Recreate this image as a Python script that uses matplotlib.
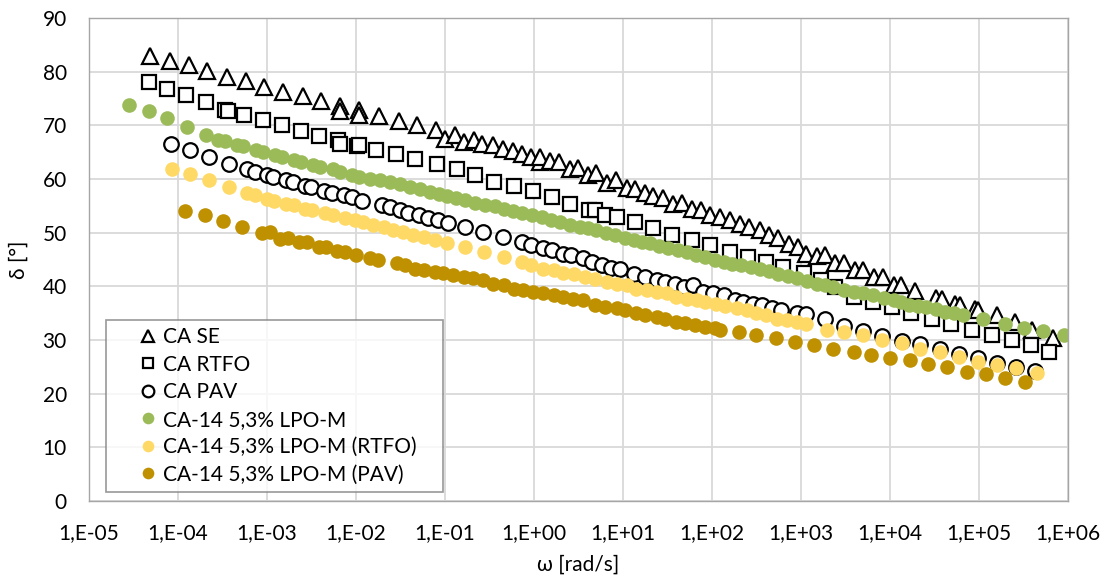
import matplotlib
matplotlib.use("Agg")
import matplotlib.pyplot as plt
from matplotlib.ticker import FixedLocator, NullLocator
import numpy as np

plt.rcParams['font.family'] = ['Lato', 'DejaVu Sans']

# log10(omega) and delta for each series
se_logw = [-4.31, -4.09, -3.88, -3.67, -3.45, -3.24, -3.03, -2.82, -2.60, -2.39,
           -2.18, -2.18, -1.97, -1.97, -1.74, -1.52, -1.31, -1.10, -1.00, -0.89,
           -0.79, -0.67, -0.58, -0.46, -0.35, -0.24, -0.14, -0.03, 0.07, 0.07,
           0.18, 0.28, 0.40, 0.50, 0.61, 0.70, 0.82, 0.92, 1.04, 1.13,
           1.25, 1.34, 1.45, 1.56, 1.66, 1.77, 1.88, 1.98, 2.09, 2.20,
           2.31, 2.42, 2.54, 2.64, 2.74, 2.86, 2.97, 3.06, 3.18, 3.27,
           3.38, 3.48, 3.61, 3.70, 3.82, 3.92, 4.04, 4.12, 4.28, 4.52,
           4.58, 4.73, 4.79, 4.96, 4.99, 5.20, 5.40, 5.59, 5.83]
se_delta = [82.9, 82.0, 81.2, 80.1, 79.0, 78.2, 77.2, 76.2, 75.4, 74.5,
            73.7, 72.7, 72.8, 71.9, 71.7, 70.8, 70.0, 69.1, 67.5, 68.2,
            66.9, 67.2, 66.5, 66.3, 65.7, 65.2, 64.7, 64.2, 63.2, 64.1,
            63.4, 63.2, 61.9, 62.1, 60.7, 61.1, 59.2, 59.8, 58.4, 58.2,
            57.4, 56.8, 56.4, 55.4, 55.5, 54.5, 54.2, 53.3, 52.9, 52.3,
            51.6, 51.0, 50.5, 49.5, 49.1, 47.9, 47.4, 46.0, 45.6, 45.8,
            44.3, 44.3, 43.0, 43.0, 41.8, 41.8, 40.3, 40.3, 39.1, 37.9,
            37.7, 36.8, 36.5, 35.7, 35.6, 34.6, 33.4, 31.8, 30.3]

rtfo_logw = [-4.33, -4.12, -3.91, -3.69, -3.47, -3.44, -3.26, -3.04, -2.83, -2.62,
             -2.41, -2.20, -2.18, -1.99, -1.97, -1.77, -1.55, -1.34, -1.09, -0.87,
             -0.66, -0.45, -0.23, -0.01, 0.20, 0.40, 0.62, 0.69, 0.80, 0.93,
             1.13, 1.34, 1.55, 1.77, 1.98, 2.20, 2.41, 2.61, 2.80, 3.03,
             3.23, 3.38, 3.59, 3.81, 4.02, 4.24, 4.47, 4.69, 4.92, 5.15,
             5.37, 5.58, 5.79]
rtfo_delta = [78.1, 76.7, 75.6, 74.4, 72.9, 72.7, 71.9, 71.0, 70.0, 69.0,
              68.0, 67.2, 66.6, 66.1, 66.3, 65.5, 64.6, 63.8, 62.8, 61.8,
              60.7, 59.5, 58.8, 57.7, 56.7, 55.4, 54.3, 54.2, 53.3, 53.0,
              52.0, 50.8, 49.5, 48.6, 47.7, 46.4, 45.5, 44.6, 43.6, 42.5,
              41.2, 39.8, 38.0, 37.1, 36.1, 35.0, 34.0, 33.0, 31.8, 31.0,
              30.1, 29.1, 27.8]

pav_logw = [-4.08, -3.87, -3.65, -3.43, -3.22, -3.13, -3.00, -2.93, -2.79, -2.71,
            -2.57, -2.50, -2.36, -2.27, -2.14, -2.05, -1.93, -1.71, -1.62, -1.51,
            -1.41, -1.29, -1.19, -1.08, -0.97, -0.78, -0.57, -0.35, -0.14, -0.03,
            0.10, 0.20, 0.33, 0.42, 0.55, 0.65, 0.76, 0.87, 0.97, 1.12,
            1.25, 1.38, 1.47, 1.58, 1.68, 1.79, 1.90, 2.01, 2.13, 2.26,
            2.35, 2.46, 2.56, 2.67, 2.78, 2.95, 3.06, 3.27, 3.48, 3.70,
            3.91, 4.13, 4.34, 4.56, 4.77, 4.99, 5.20, 5.42, 5.63]
pav_delta = [66.6, 65.4, 64.2, 62.9, 61.8, 61.3, 60.7, 60.4, 59.8, 59.5,
             58.8, 58.5, 57.8, 57.4, 57.0, 56.6, 55.9, 55.1, 54.8, 54.2,
             53.7, 53.3, 52.8, 52.3, 51.8, 51.1, 50.1, 49.2, 48.3, 47.7,
             47.1, 46.7, 46.1, 45.8, 45.2, 44.6, 44.0, 43.5, 43.3, 42.4,
             41.8, 41.2, 40.8, 40.5, 39.9, 40.2, 39.0, 38.7, 38.4, 37.4,
             37.1, 36.8, 36.5, 35.9, 35.6, 35.0, 34.8, 33.9, 32.7, 31.7,
             30.8, 29.9, 29.2, 28.3, 27.4, 26.6, 25.8, 25.0, 24.2]

lpo_logw = [-4.55, -4.33, -4.12, -3.90, -3.69, -3.55, -3.47, -3.34, -3.27, -3.12,
            -3.05, -2.91, -2.83, -2.70, -2.62, -2.48, -2.40, -2.26, -2.18, -2.04,
            -1.97, -1.84, -1.73, -1.62, -1.51, -1.39, -1.28, -1.17, -1.07, -0.98,
            -0.88, -0.78, -0.66, -0.55, -0.44, -0.34, -0.24, -0.14, -0.02, 0.09,
            0.19, 0.29, 0.40, 0.52, 0.61, 0.70, 0.81, 0.91, 1.02, 1.12,
            1.21, 1.30, 1.41, 1.51, 1.62, 1.72, 1.82, 1.92, 2.03, 2.13,
            2.23, 2.33, 2.44, 2.54, 2.64, 2.74, 2.85, 2.95, 3.07, 3.18,
            3.27, 3.36, 3.48, 3.59, 3.70, 3.81, 3.93, 4.04, 4.12, 4.21,
            4.31, 4.41, 4.52, 4.62, 4.72, 4.82, 5.05, 5.29, 5.51, 5.72, 5.95]
lpo_delta = [73.9, 72.7, 71.3, 69.7, 68.2, 67.3, 67.1, 66.3, 66.1, 65.4,
             65.0, 64.4, 64.1, 63.5, 63.2, 62.6, 62.3, 61.8, 61.3, 60.7,
             60.4, 60.1, 59.8, 59.5, 59.0, 58.5, 58.1, 57.6, 57.2, 56.8,
             56.5, 56.1, 55.6, 55.2, 54.9, 54.5, 54.1, 53.7, 53.3, 52.9,
             52.4, 52.0, 51.5, 51.1, 50.8, 50.5, 50.0, 49.5, 49.1, 48.6,
             48.3, 48.0, 47.5, 47.1, 46.8, 46.4, 45.9, 45.5, 45.0, 44.6,
             44.2, 43.9, 43.6, 43.3, 42.8, 42.4, 41.9, 41.5, 41.0, 40.5,
             40.2, 39.9, 39.4, 39.0, 38.7, 38.4, 37.9, 37.4, 37.0, 36.5,
             36.3, 36.1, 35.7, 35.3, 35.0, 34.6, 34.0, 33.0, 32.3, 31.7, 30.9]

lpo_rtfo_logw = [-4.07, -3.86, -3.65, -3.43, -3.22, -3.13, -3.00, -2.92, -2.79, -2.70,
                 -2.57, -2.49, -2.35, -2.26, -2.12, -2.01, -1.92, -1.81, -1.69, -1.58,
                 -1.47, -1.36, -1.24, -1.11, -0.98, -0.78, -0.56, -0.34, -0.14, -0.03,
                 0.10, 0.22, 0.33, 0.45, 0.57, 0.69, 0.82, 0.93, 1.04, 1.15,
                 1.27, 1.38, 1.49, 1.60, 1.72, 1.83, 1.92, 2.05, 2.15, 2.28,
                 2.39, 2.50, 2.61, 2.73, 2.84, 2.95, 3.06, 3.29, 3.48, 3.70,
                 3.91, 4.13, 4.34, 4.56, 4.77, 4.99, 5.20, 5.42, 5.65]
lpo_rtfo_delta = [61.9, 60.9, 59.8, 58.5, 57.4, 57.0, 56.2, 55.9, 55.4, 55.1,
                  54.5, 54.2, 53.7, 53.3, 52.8, 52.3, 52.0, 51.4, 51.1, 50.5,
                  50.2, 49.5, 49.2, 48.6, 48.0, 47.4, 46.4, 45.5, 44.6, 43.9,
                  43.3, 43.0, 42.5, 42.3, 41.7, 41.3, 40.8, 40.5, 40.2, 39.6,
                  39.3, 39.0, 38.7, 38.0, 37.7, 37.4, 37.1, 36.7, 36.3, 35.9,
                  35.6, 35.0, 34.6, 34.0, 33.7, 33.4, 33.0, 31.8, 31.5, 30.9,
                  30.0, 29.4, 28.4, 27.8, 26.9, 25.9, 25.3, 24.7, 23.8]

lpo_pav_logw = [-3.92, -3.70, -3.49, -3.28, -3.06, -2.97, -2.85, -2.76, -2.64, -2.55,
                -2.42, -2.34, -2.21, -2.12, -2.00, -1.84, -1.75, -1.54, -1.45, -1.34,
                -1.24, -1.11, -1.02, -0.91, -0.79, -0.68, -0.57, -0.46, -0.34, -0.23,
                -0.12, -0.01, 0.10, 0.22, 0.33, 0.44, 0.55, 0.69, 0.80, 0.93,
                1.02, 1.15, 1.25, 1.38, 1.47, 1.60, 1.70, 1.81, 1.92, 2.03,
                2.09, 2.30, 2.50, 2.72, 2.93, 3.15, 3.36, 3.59, 3.79, 4.00,
                4.22, 4.43, 4.64, 4.86, 5.08, 5.29, 5.52]
lpo_pav_delta = [54.1, 53.3, 52.2, 51.1, 49.9, 50.2, 48.9, 49.1, 48.3, 48.3,
                 47.4, 47.4, 46.6, 46.4, 45.8, 45.2, 45.0, 44.3, 43.9, 43.3,
                 43.0, 42.7, 42.5, 42.1, 41.8, 41.5, 41.2, 40.5, 40.2, 39.6,
                 39.3, 39.0, 38.7, 38.4, 38.0, 37.7, 37.4, 36.5, 36.2, 35.9,
                 35.6, 35.0, 34.6, 34.3, 34.0, 33.4, 33.1, 32.8, 32.5, 32.2,
                 31.8, 31.5, 30.9, 30.3, 29.7, 29.1, 28.4, 27.8, 27.2, 26.6,
                 26.3, 25.5, 25.0, 24.1, 23.6, 23.0, 22.2]

labels = ['CA SE', 'CA RTFO', 'CA PAV', 'CA-14 5,3% LPO-M',
          'CA-14 5,3% LPO-M (RTFO)', 'CA-14 5,3% LPO-M (PAV)']
xtick_exp = [-5, -4, -3, -2, -1, 0, 1, 2, 3, 4, 5, 6]

series = [
    (se_logw, se_delta, '^', 'white', 'black'),
    (rtfo_logw, rtfo_delta, 's', 'white', 'black'),
    (pav_logw, pav_delta, 'o', 'white', 'black'),
    (lpo_logw, lpo_delta, 'o', '#9BBB59', '#9BBB59'),
    (lpo_rtfo_logw, lpo_rtfo_delta, 'o', '#FFD966', '#FFD966'),
    (lpo_pav_logw, lpo_pav_delta, 'o', '#BF9000', '#BF9000'),
]

fig = plt.figure(figsize=(11.08, 5.85), dpi=100)
ax = fig.add_axes([0.0803, 0.1436, 0.8836, 0.8254])

for (lw, d, mk, fc, ec), lab in zip(series, labels):
    if mk == '^':
        ms = 11
    elif mk == 's':
        ms = 9.8
    else:
        ms = 10.5
    mew = 1.6 if fc == 'white' else 0
    ax.plot(10.0 ** np.array(lw), d, linestyle='none', marker=mk, markersize=ms,
            markerfacecolor=fc, markeredgecolor=ec, markeredgewidth=mew, label=lab)

ax.set_xscale('log')
ax.set_xlim(1e-5, 1e6)
ax.set_ylim(0, 90)
ax.xaxis.set_major_locator(FixedLocator([10.0 ** e for e in xtick_exp]))
ax.xaxis.set_minor_locator(NullLocator())
ax.set_xticklabels(['1,E%+03d' % e for e in xtick_exp])
ax.set_yticks(range(0, 91, 10))

ax.grid(True, color='#D9D9D9', linewidth=1.3)
ax.set_axisbelow(True)
for s in ax.spines.values():
    s.set_color('#A6A6A6')
    s.set_linewidth(1.0)
ax.tick_params(length=0, labelsize=15, colors='#000000')
ax.tick_params(axis='x', pad=16)
ax.tick_params(axis='y', pad=16)

ax.set_xlabel('ω [rad/s]', fontsize=15, labelpad=8)
ax.set_ylabel('δ [°]', fontsize=15, labelpad=10)

# legend box stretched to the width seen in the reference
leg = ax.legend(loc='lower left', bbox_to_anchor=(0.0174, 0.0186, 0.344, 0.3),
                mode='expand', fontsize=15,
                frameon=True, fancybox=False, edgecolor='#7F7F7F',
                markerscale=0.8, handletextpad=-0.9, handlelength=3.3,
                labelspacing=0.36, borderpad=0.35, borderaxespad=0)
leg.get_frame().set_linewidth(1.2)

fig.savefig('out.png', dpi=100)
